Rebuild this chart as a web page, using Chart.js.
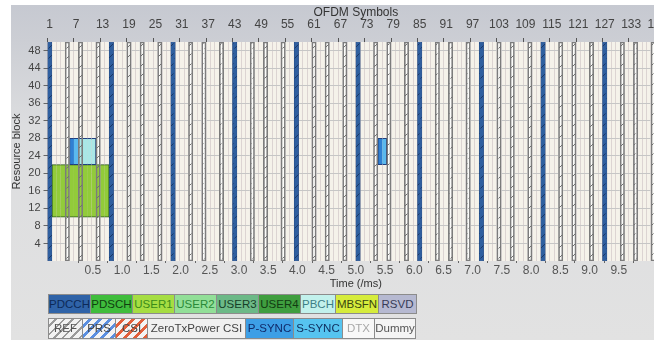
<!DOCTYPE html>
<html>
<head>
<meta charset="utf-8">
<script src="https://cdn.jsdelivr.net/npm/chart.js@4"></script>
<style>
  body { margin: 0; background: #fff; width: 654px; height: 340px; overflow: hidden; position: relative; font-family: "Liberation Sans", Arial, sans-serif; }
  .panel { position: absolute; left: 11px; top: 5px; width: 643px; height: 335px;
    background: linear-gradient(#c6c9d1 0, #ccced4 36px, #dcdddf 120px, #e2e2e2 100%); }
  #grid { position: absolute; left: 0; top: 0; }
  .legend-row { position: absolute; left: 48px; display: flex; }
  .legend-row div { box-sizing: border-box; border: 1px solid #8c8c8c; margin-right: -1px;
    font-size: 11.5px; line-height: 18px; text-align: center; white-space: nowrap; overflow: hidden; }
</style>
</head>
<body>
<div class="panel"></div>
<canvas id="grid" width="668" height="340"></canvas>
<div class="legend-row" id="legend1" style="top:294px;height:20px"></div>
<div class="legend-row" id="legend2" style="top:318px;height:21px"></div>
<script>
// OFDM symbols 1..140 of one 10 ms frame (14 per subframe)
const symbolLabels = Array.from({ length: 140 }, (_, i) => i + 1);
const timeTicks = [0.5, 1.0, 1.5, 2.0, 2.5, 3.0, 3.5, 4.0, 4.5, 5.0, 5.5, 6.0, 6.5, 7.0, 7.5, 8.0, 8.5, 9.0, 9.5];
const rbTicks = [4, 8, 12, 16, 20, 24, 28, 32, 36, 40, 44, 48];

const fullBand = [0, 50];
const pdcchSymbols = [1, 15, 29, 43, 57, 71, 85, 99, 113, 127];
const refSymbols = [5, 8, 12, 19, 22, 26, 33, 36, 40, 47, 50, 54, 61, 64, 68,
  75, 78, 82, 89, 92, 96, 103, 106, 110, 117, 120, 124, 131, 134, 138];
const pdschSymbols = [2, 3, 4, 5, 6, 7, 8, 9, 10, 11, 12, 13, 14];
const pdschRB = [10, 22];
const pbchSymbols = [8, 9, 10, 11];
const pSyncSymbols = [6, 76];
const sSyncSymbols = [7, 77];
const centerRB = [22, 28];

const legend1 = [
  ["PDCCH", "#2f63a8", "#0d2a58", 43], ["PDSCH", "#3fbd3c", "#0f4010", 43],
  ["USER1", "#a6dd42", "#3a8c1a", 43], ["USER2", "#92df98", "#2a8a38", 43],
  ["USER3", "#6cb987", "#163f28", 43], ["USER4", "#3f9e3f", "#123c12", 43],
  ["PBCH", "#c2f1ec", "#3d7f86", 36], ["MBSFN", "#d6ec3c", "#3a4810", 44],
  ["RSVD", "#b6b9d1", "#383c58", 39]
];
const legend2 = [
  ["REF", "repeating-linear-gradient(135deg,#f2f2f2 0 4px,#9a9a9a 4px 6px)", "#555", 35],
  ["PRS", "repeating-linear-gradient(135deg,#f4f4f4 0 4px,#5b8fe0 4px 7px)", "#444", 34],
  ["CSI", "repeating-linear-gradient(135deg,#f4f4f4 0 4px,#e2603c 4px 7px)", "#444", 33],
  ["ZeroTxPower CSI", "#f0f0f0", "#444", 99], ["P-SYNC", "#3d9fe6", "#102a6a", 49],
  ["S-SYNC", "#56c4f0", "#103060", 50], ["DTX", "#f8f8f8", "#a8a8a8", 33],
  ["Dummy", "#f4f4f4", "#555", 42]
];

function fillLegend(id, items) {
  const row = document.getElementById(id);
  items.forEach(([name, bg, fg, w]) => {
    const d = document.createElement("div");
    d.textContent = name;
    d.style.background = bg;
    d.style.color = fg;
    d.style.width = w + "px";
    row.appendChild(d);
  });
}
fillLegend("legend1", legend1);
fillLegend("legend2", legend2);

function hatch(bg, stroke) {
  const c = document.createElement("canvas");
  c.width = 6; c.height = 10;
  const g = c.getContext("2d");
  if (bg) { g.fillStyle = bg; g.fillRect(0, 0, 6, 10); }
  g.strokeStyle = stroke;
  g.lineWidth = 1;
  g.beginPath(); g.moveTo(0.5, 8.5); g.lineTo(5.5, 3.5); g.stroke();
  return g.createPattern(c, "repeat");
}
const ctx = document.getElementById("grid").getContext("2d");
const refHatch = hatch(null, "#707070");
const pdcchHatch = hatch("#2f5f9f", "#1a3766");

const span = (symbols, rb) => symbols.map((s) => ({ x: s, y: rb }));

const plotBg = {
  id: "plotBg",
  beforeDraw(chart) {
    const { ctx, chartArea: a } = chart;
    ctx.save();
    ctx.fillStyle = "#f5f2ea";
    ctx.fillRect(a.left, a.top, a.right - a.left, a.bottom - a.top);
    ctx.restore();
  },
};

Chart.defaults.font.family = "'Liberation Sans', Arial, sans-serif";
Chart.defaults.font.size = 12;
Chart.defaults.color = "#4a4a4a";

new Chart(ctx, {
  type: "bar",
  data: {
    labels: symbolLabels,
    datasets: [
      // REF hatch and outline on top of everything
      {
        label: "REF",
        data: span(refSymbols, fullBand),
        backgroundColor: refHatch,
        borderColor: "#7c7c7c",
        borderWidth: 1,
      },
      {
        label: "PDCCH",
        data: span(pdcchSymbols, fullBand),
        backgroundColor: pdcchHatch,
        borderColor: "#23467c",
        borderWidth: 0.5,
      },
      {
        label: "P-SYNC",
        data: span(pSyncSymbols, centerRB),
        backgroundColor: "#2f80d2",
        borderColor: "#1f3f80",
        borderWidth: { top: 1, bottom: 1, left: 1, right: 0 },
      },
      {
        label: "S-SYNC",
        data: span(sSyncSymbols, centerRB),
        backgroundColor: "#5ab9ee",
        borderColor: "#1f3f80",
        borderWidth: (c) => ({ top: 1, bottom: 1, left: 0, right: c.raw && !pbchSymbols.includes(c.raw.x + 1) ? 1 : 0 }),
      },
      {
        label: "PBCH",
        data: span(pbchSymbols, centerRB),
        backgroundColor: "#a9e7e6",
        borderColor: "#1f3f80",
        borderWidth: (c) => ({ top: 1, bottom: 1, left: 0, right: c.dataIndex === pbchSymbols.length - 1 ? 1 : 0 }),
      },
      {
        label: "PDSCH",
        data: span(pdschSymbols, pdschRB),
        backgroundColor: "#92cb3a",
        borderColor: "#2a5a1c",
        borderWidth: (c) => ({ top: 1, bottom: 1, left: c.dataIndex === 0 ? 1 : 0, right: c.dataIndex === pdschSymbols.length - 1 ? 1 : 0 }),
      },
      // REF white fill, beneath the channel blocks
      {
        label: "REF fill",
        data: span(refSymbols, fullBand),
        backgroundColor: "#fcfcfa",
        borderWidth: 0,
      },
    ],
  },
  options: {
    responsive: false,
    animation: false,
    events: [],
    layout: { padding: { left: 0, top: 0, right: 0, bottom: 49 } },
    datasets: { bar: { barPercentage: 1, categoryPercentage: 1, borderSkipped: false, grouped: false } },
    plugins: { legend: { display: false }, tooltip: { enabled: false } },
    scales: {
      x: {
        position: "top",
        offset: true,
        border: { display: false },
        grid: {
          offset: true,
          color: "#dcd4d2",
          lineWidth: 1,
          tickLength: 4,
          tickColor: (c) => (c.index % 6 === 0 ? "#555" : "transparent"),
        },
        ticks: {
          autoSkip: false,
          maxRotation: 0,
          padding: 6,
          color: "#444",
          callback: (v, i) => (i % 6 === 0 ? String(symbolLabels[i]) : ""),
        },
        title: { display: true, text: "OFDM Symbols", font: { size: 12 }, color: "#333", padding: { top: 5, bottom: 0 } },
        afterFit: (s) => { s.height = 42; },
      },
      xt: {
        type: "linear",
        position: "bottom",
        min: 0,
        max: 10,
        border: { display: false },
        grid: { drawOnChartArea: false, tickLength: 2, color: "#666" },
        afterBuildTicks: (s) => { s.ticks = timeTicks.map((v) => ({ value: v })); },
        ticks: { padding: 0, color: "#555", callback: (v) => v.toFixed(1) },
        title: { display: true, text: "Time (/ms)", font: { size: 11 }, color: "#333", padding: { top: 0, bottom: 0 } },
        afterFit: (s) => { s.height = 30; },
      },
      y: {
        min: 0,
        max: 50,
        border: { display: false },
        grid: { color: "#c6c6c6", tickLength: 4, tickColor: "#666" },
        afterBuildTicks: (s) => { s.ticks = rbTicks.map((v) => ({ value: v })); },
        ticks: { padding: 3, color: "#444", font: { size: 11 } },
        title: { display: true, text: "Resource block", font: { size: 11 }, color: "#333", padding: { top: 10, bottom: 0 } },
        afterFit: (s) => { s.width = 47.5; },
      },
    },
  },
  plugins: [plotBg],
});
</script>
</body>
</html>
